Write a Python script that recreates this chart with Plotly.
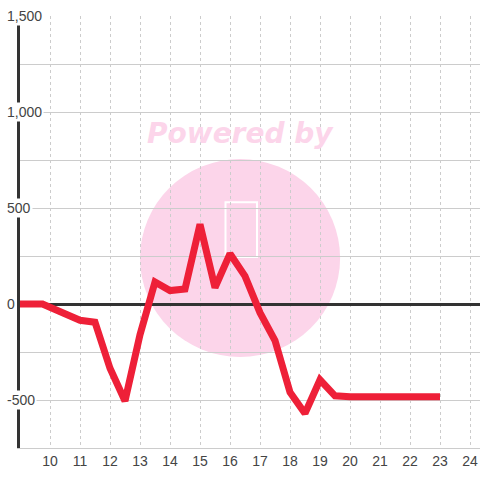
import plotly.graph_objects as go

x_vals = [9, 9.75, 11, 11.5, 12, 12.5, 13, 13.5, 14, 14.5, 15, 15.5, 16, 16.5,
          17, 17.5, 18, 18.5, 19, 19.5, 20, 20.5, 21, 21.5, 22, 22.5, 23]
y_vals = [0, 0, -85, -95, -335, -505, -160, 115, 70, 78, 415, 85, 262, 145,
          -45, -190, -460, -570, -395, -478, -483, -483, -483, -483, -483, -483, -483]
y_tick_vals = [-500, 0, 500, 1000, 1500]
y_tick_text = ["-500", "0", "500", "1,000", "1,500"]
x_tick_vals = list(range(10, 25))

fig = go.Figure()
fig.add_trace(go.Scatter(
    x=x_vals, y=y_vals, mode="lines",
    line=dict(color="#ee2038", width=7, shape="linear"),
    hoverinfo="skip", showlegend=False,
))

# watermark
fig.add_shape(type="circle", xref="x", yref="y", x0=13.0, x1=19.67, y0=-276, y1=755,
              fillcolor="#fcd5ea", line=dict(width=0), layer="below")
fig.add_shape(type="rect", xref="x", yref="y", x0=15.85, x1=16.9, y0=245, y1=530,
              fillcolor="rgba(0,0,0,0)", line=dict(color="white", width=2), layer="below")
fig.add_annotation(x=0.48, xref="paper", y=888, yref="y", text="<b><i>Powered by</i></b>",
                   showarrow=False, font=dict(family="DejaVu Sans", size=28, color="#fcd5ea"))

for v, t in zip(y_tick_vals, y_tick_text):
    fig.add_annotation(x=-15/460, xref="paper", y=v, yref="y", text=t, xanchor="left",
                       yanchor="middle", showarrow=False, bgcolor="white", borderpad=1,
                       font=dict(family="Liberation Sans, Arial", size=14, color="#444"))

fig.update_layout(
    width=480, height=480,
    margin=dict(l=20, r=0, t=16, b=32),
    paper_bgcolor="white", plot_bgcolor="rgba(0,0,0,0)",
    font=dict(family="Liberation Sans, Arial", size=14, color="#444"),
    xaxis=dict(range=[9, 9 + 460/30], tickvals=x_tick_vals, showgrid=True,
               gridcolor="#cccccc", griddash="dot", gridwidth=1,
               showline=True, linecolor="#cccccc", linewidth=1,
               zeroline=False, ticks="", fixedrange=True),
    yaxis=dict(range=[-750, 1500], dtick=250, showgrid=True, gridcolor="#cccccc",
               gridwidth=1, showticklabels=False, showline=True, linecolor="#333333",
               linewidth=3, zeroline=True, zerolinecolor="#333333", zerolinewidth=3,
               ticks="", fixedrange=True),
)

fig.write_html("out.html", config={"displayModeBar": False},
               post_script="document.body.style.margin='0';document.body.style.overflow='hidden';")
